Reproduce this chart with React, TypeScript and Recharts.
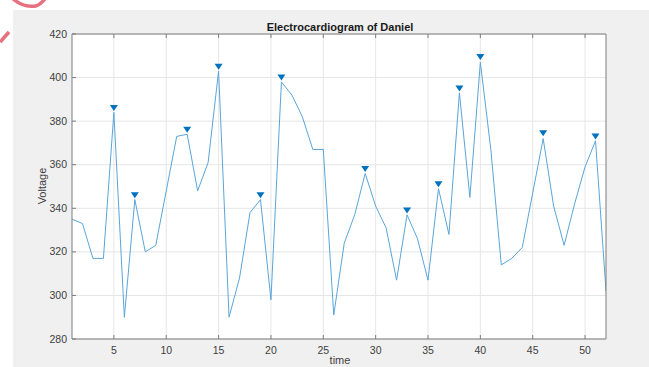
import { ComposedChart, Line, Scatter, XAxis, YAxis, CartesianGrid } from 'recharts';

// samples 1..52
const times = Array.from({ length: 52 }, (_, i) => i + 1);
const voltage = [
  335, 333, 317, 317, 384, 290, 344, 320, 323, 348,
  373, 374, 348, 361, 403, 290, 308, 338, 344, 298,
  398, 392, 382, 367, 367, 291, 324, 337, 356, 341,
  331, 307, 337, 326, 307, 349, 328, 393, 345, 407,
  367, 314, 317, 322, 347, 372, 341, 323, 342, 359,
  371, 302,
];

// findpeaks markers (drawn slightly above each peak)
const peakTimes = [5, 7, 12, 15, 19, 21, 29, 33, 36, 38, 40, 46, 51];
const peakMarks = [386, 346, 376, 405, 346, 400, 358, 339, 351, 395, 409.5, 374.5, 373];

const xTicks = [5, 10, 15, 20, 25, 30, 35, 40, 45, 50];
const yTicks = [280, 300, 320, 340, 360, 380, 400, 420];

const data = times.map((t, i) => ({ t, v: voltage[i] }));
const peaks = peakTimes.map((t, i) => ({ t, v: peakMarks[i] }));

const FONT = '"Liberation Sans", Arial, Helvetica, sans-serif';
const AXIS = '#7d7d7d';
const LABEL = '#404040';

const BottomTick = (p: any) => (
  <g>
    <line x1={p.x} y1={p.y} x2={p.x} y2={p.y - 4} stroke={AXIS} />
    <text x={p.x} y={p.y + 15} textAnchor="middle" fontSize={10.5} fill={LABEL} fontFamily={FONT}>
      {p.payload.value}
    </text>
  </g>
);
const TopTick = (p: any) => <line x1={p.x} y1={p.y} x2={p.x} y2={p.y + 4} stroke={AXIS} />;
const LeftTick = (p: any) => (
  <g>
    <line x1={p.x} y1={p.y} x2={p.x + 4} y2={p.y} stroke={AXIS} />
    <text x={p.x - 5} y={p.y + 3.5} textAnchor="end" fontSize={10.5} fill={LABEL} fontFamily={FONT}>
      {p.payload.value}
    </text>
  </g>
);
const RightTick = (p: any) => <line x1={p.x} y1={p.y} x2={p.x - 4} y2={p.y} stroke={AXIS} />;

const Triangle = (p: any) => (
  <polygon
    points={`${p.cx - 4},${p.cy - 3} ${p.cx + 4},${p.cy - 3} ${p.cx},${p.cy + 3}`}
    fill="#0072BD"
  />
);

export default function App() {
  return (
    <div style={{ position: 'absolute', left: 0, top: 0, width: 649, height: 367, background: '#fff', overflow: 'hidden' }}>
      <div style={{ position: 'absolute', left: 13, top: 10, width: 636, height: 357, background: '#f0f0f0' }} />
      <svg width={60} height={50} style={{ position: 'absolute', left: 0, top: 0 }}>
        <path d="M13,-1 Q24,8 36,6 Q41,4 45,-1" stroke="#e8707e" strokeWidth={3.5} fill="none" />
        <path d="M0,42 L9,32" stroke="#e8707e" strokeWidth={3.5} fill="none" />
      </svg>
      <div style={{ position: 'absolute', left: 0, top: 0 }}>
        <ComposedChart width={649} height={367} data={data} margin={{ top: 33, right: 42, bottom: 0, left: 12 }}>
          <CartesianGrid fill="#ffffff" stroke="#e6e6e6" verticalValues={xTicks} horizontalValues={yTicks} />
          <XAxis
            dataKey="t"
            type="number"
            domain={[1, 52]}
            ticks={xTicks}
            interval={0}
            tickSize={0}
            tickMargin={0}
            height={28}
            allowDataOverflow
            tick={BottomTick}
            stroke={AXIS}
          />
          <XAxis
            xAxisId="top"
            orientation="top"
            dataKey="t"
            type="number"
            domain={[1, 52]}
            ticks={xTicks}
            interval={0}
            tickSize={0}
            tickMargin={0}
            height={1}
            tick={TopTick}
            stroke={AXIS}
          />
          <YAxis
            type="number"
            domain={[280, 420]}
            ticks={yTicks}
            interval={0}
            tickSize={0}
            tickMargin={0}
            width={60}
            allowDataOverflow
            tick={LeftTick}
            stroke={AXIS}
          />
          <YAxis
            yAxisId="right"
            orientation="right"
            type="number"
            domain={[280, 420]}
            ticks={yTicks}
            interval={0}
            tickSize={0}
            tickMargin={0}
            width={1}
            tick={RightTick}
            stroke={AXIS}
          />
          <Line dataKey="v" type="linear" stroke="#5aa5d9" strokeWidth={1} dot={false} isAnimationActive={false} />
          <Scatter data={peaks} dataKey="v" shape={Triangle} isAnimationActive={false} />
          <text x={340} y={31} textAnchor="middle" fontSize={11} fontWeight="bold" fill="#1a1a1a" fontFamily={FONT}>
            Electrocardiogram of Daniel
          </text>
          <text x={340} y={364} textAnchor="middle" fontSize={11} fill={LABEL} fontFamily={FONT}>
            time
          </text>
          <text
            x={46}
            y={186}
            textAnchor="middle"
            fontSize={11}
            fill={LABEL}
            fontFamily={FONT}
            transform="rotate(-90 46 186)"
          >
            Voltage
          </text>
        </ComposedChart>
      </div>
    </div>
  );
}
